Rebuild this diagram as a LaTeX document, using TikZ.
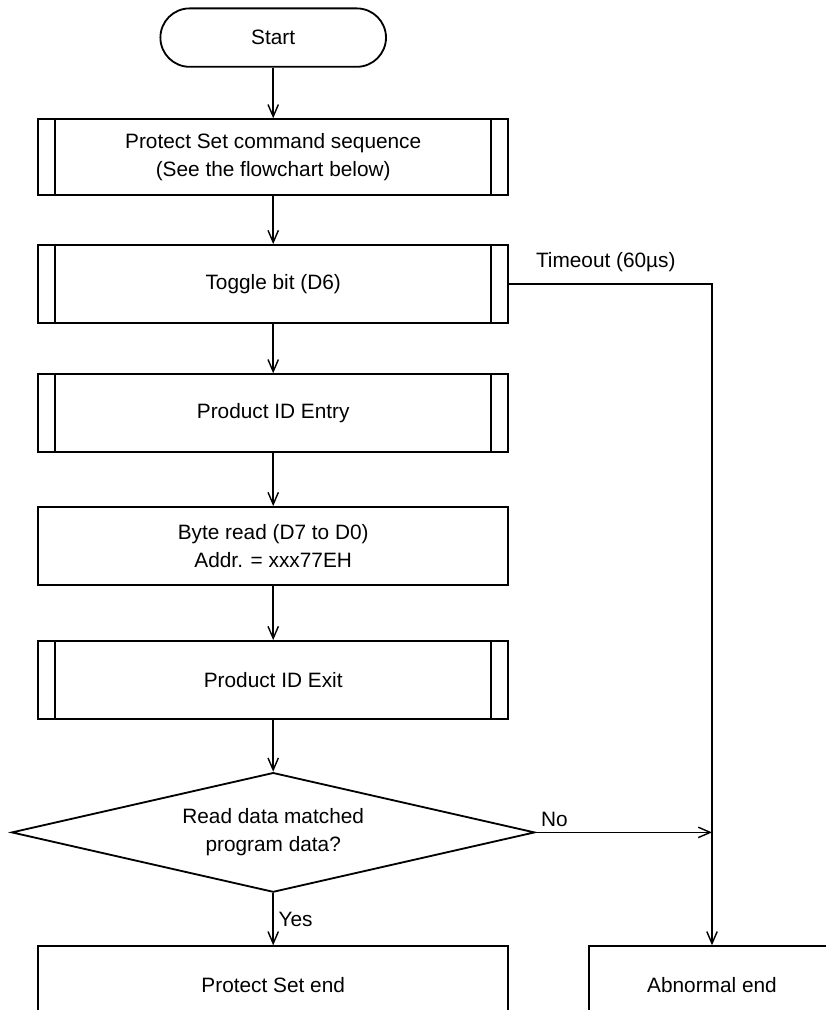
\documentclass[tikz,border=0pt]{standalone}
\usepackage{fontspec}
\setmainfont{Liberation Sans}
\usepackage{tikz}
\usetikzlibrary{positioning,arrows.meta,shapes.geometric,calc}

\begin{document}
\begin{tikzpicture}[font=\fontsize{14.8}{20}\selectfont,
  box/.style={draw,line width=1.3pt,minimum width=11.76cm,minimum height=1.95cm,align=center},
  subbox/.style={box,path picture={
    \draw[line width=1.3pt] ([xshift=0.435cm]path picture bounding box.north west) -- ([xshift=0.435cm]path picture bounding box.south west);
    \draw[line width=1.3pt] ([xshift=-0.435cm]path picture bounding box.north east) -- ([xshift=-0.435cm]path picture bounding box.south east);}},
  terminal/.style={draw,line width=1.3pt,rounded corners=0.73cm,minimum width=5.64cm,minimum height=1.46cm},
  decision/.style={draw,diamond,line width=1.3pt,aspect=4.37,inner sep=0pt,minimum width=13.08cm,minimum height=2.99cm,align=center},
  flow/.style={line width=1pt,-{Straight Barb[length=3mm,width=2.6mm]}}]
  \clip (0,0) rectangle (20.65,-25.25);
  \node[terminal] (start) at (6.83,-0.94) {Start};
  \node[subbox,minimum height=1.9cm] (set) at (6.83,-3.93) {Protect Set command sequence\\(See the flowchart below)};
  \node[subbox] (toggle) at (6.83,-7.1) {Toggle bit (D6)};
  \node[subbox] (entry) at (6.83,-10.33) {Product ID Entry};
  \node[box] (read) at (6.83,-13.65) {Byte read (D7 to D0)\\Addr. = xxx77EH};
  \node[subbox] (exit) at (6.83,-17.0) {Product ID Exit};
  \node[decision] (match) at (6.83,-20.81) {Read data matched\\program data?};
  \node[box] (done) at (6.83,-24.63) {Protect Set end};
  \node[box,minimum width=6.15cm] (abort) at (17.8,-24.63) {Abnormal end};
  \coordinate (join) at (match.east -| abort.north);
  \draw[flow] (start) -- (set);
  \draw[flow] (set) -- (toggle);
  \draw[flow] (toggle) -- (entry);
  \draw[flow] (entry) -- (read);
  \draw[flow] (read) -- (exit);
  \draw[flow] (exit) -- (match);
  \draw[flow] (match) -- node[right] (yes) {Yes} (done);
  \draw[flow] (match.east) -- node[pos=0,above right] (no) {No} (join);
  \draw[flow] (toggle.east) -| node[pos=0.238,above=5pt] (timeout) {Timeout (60µs)} (abort.north);
\end{tikzpicture}
\end{document}
